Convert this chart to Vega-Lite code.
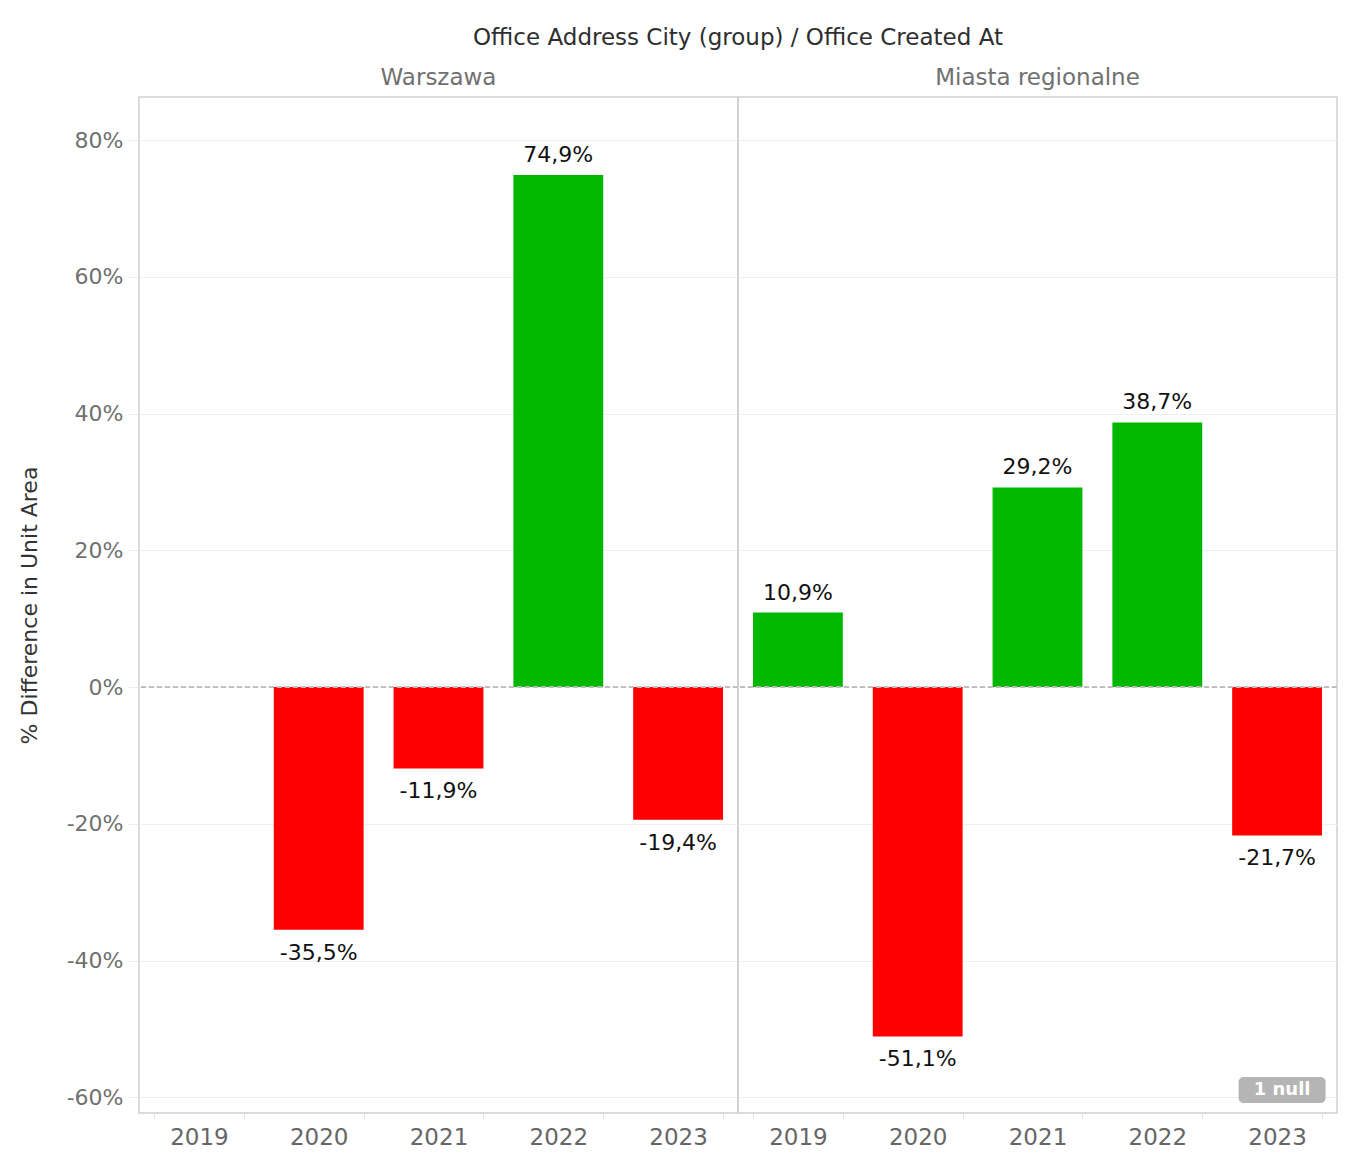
{
  "$schema": "https://vega.github.io/schema/vega-lite/v6.json",
  "background": "white",
  "padding": {"left": 18, "top": 27, "right": 6, "bottom": 5},
  "bounds": "flush",
  "config": {
    "font": "DejaVu Sans",
    "locale": {
      "number": {"decimal": ",", "thousands": " ", "grouping": [3], "currency": ["", " zł"], "minus": "-"}
    },
    "view": {"stroke": "#d0d0d0", "strokeWidth": 1.5},
    "axis": {"labelFont": "DejaVu Sans", "titleFont": "DejaVu Sans"}
  },
  "data": {
    "values": [
      {"city": "Warszawa", "year": "2019", "value": null},
      {"city": "Warszawa", "year": "2020", "value": -0.355},
      {"city": "Warszawa", "year": "2021", "value": -0.119},
      {"city": "Warszawa", "year": "2022", "value": 0.749},
      {"city": "Warszawa", "year": "2023", "value": -0.194},
      {"city": "Miasta regionalne", "year": "2019", "value": 0.109},
      {"city": "Miasta regionalne", "year": "2020", "value": -0.511},
      {"city": "Miasta regionalne", "year": "2021", "value": 0.292},
      {"city": "Miasta regionalne", "year": "2022", "value": 0.387},
      {"city": "Miasta regionalne", "year": "2023", "value": -0.217}
    ]
  },
  "spacing": 0,
  "facet": {
    "column": {
      "field": "city",
      "type": "nominal",
      "sort": ["Warszawa", "Miasta regionalne"],
      "title": "Office Address City (group)  /  Office Created At",
      "header": {
        "labelOrient": "top",
        "titleOrient": "top",
        "titleFont": "DejaVu Sans",
        "titleFontSize": 23,
        "titleFontWeight": "normal",
        "titleColor": "#2e2e2e",
        "titlePadding": 7,
        "labelFont": "DejaVu Sans",
        "labelFontSize": 23,
        "labelColor": "#707070",
        "labelPadding": 7
      }
    }
  },
  "spec": {
    "width": 599,
    "height": 1016,
    "encoding": {
      "x": {
        "field": "year",
        "type": "ordinal",
        "title": null,
        "scale": {"domain": ["2019", "2020", "2021", "2022", "2023"], "paddingInner": 0.25, "paddingOuter": 0.125},
        "axis": {
          "labelAngle": 0,
          "labelFontSize": 23,
          "labelColor": "#666666",
          "labelPadding": 7,
          "domain": false,
          "ticks": true,
          "tickBand": "extent",
          "tickSize": 6,
          "tickColor": "#e2e2e2",
          "grid": false
        }
      },
      "y": {
        "field": "value",
        "type": "quantitative",
        "title": "% Difference in Unit Area",
        "scale": {"domain": [-0.623, 0.863], "nice": false, "zero": false},
        "axis": {
          "values": [-0.6, -0.4, -0.2, 0, 0.2, 0.4, 0.6, 0.8],
          "format": ".0%",
          "labelFontSize": 22,
          "labelColor": "#707070",
          "labelPadding": 5,
          "tickSize": 11,
          "tickColor": "#eeeeee",
          "domain": false,
          "grid": true,
          "gridColor": "#efefef",
          "titleFontSize": 22,
          "titleFontWeight": "normal",
          "titleColor": "#333333",
          "titlePadding": 25
        }
      }
    },
    "layer": [
      {
        "transform": [{"filter": "datum.value != null"}],
        "mark": {"type": "bar"},
        "encoding": {
          "color": {
            "condition": {"test": "datum.value >= 0", "value": "#00b800"},
            "value": "#ff0000"
          }
        }
      },
      {
        "mark": {"type": "rule", "color": "#bdbdbd", "strokeDash": [5, 3], "strokeWidth": 1.2},
        "encoding": {"y": {"datum": 0}, "x": null}
      },
      {
        "transform": [{"filter": "datum.value != null && datum.value >= 0"}],
        "mark": {"type": "text", "baseline": "bottom", "dy": -8, "fontSize": 22, "color": "#111111"},
        "encoding": {"text": {"field": "value", "type": "quantitative", "format": ".1%"}}
      },
      {
        "transform": [{"filter": "datum.value != null && datum.value < 0"}],
        "mark": {"type": "text", "baseline": "top", "dy": 13, "fontSize": 22, "color": "#111111"},
        "encoding": {"text": {"field": "value", "type": "quantitative", "format": ".1%"}}
      },
      {
        "transform": [{"filter": "datum.city == 'Miasta regionalne' && datum.year == '2023'"}],
        "mark": {"type": "bar", "width": 87, "xOffset": 5, "color": "#b5b5b5", "cornerRadius": 5},
        "encoding": {"y": {"datum": -0.6084}, "y2": {"datum": -0.5703}}
      },
      {
        "transform": [{"filter": "datum.city == 'Miasta regionalne' && datum.year == '2023'"}],
        "mark": {"type": "text", "dx": 5, "fontSize": 18, "fontWeight": "bold", "color": "white", "baseline": "middle"},
        "encoding": {"y": {"datum": -0.5893}, "text": {"value": "1 null"}}
      }
    ]
  }
}
